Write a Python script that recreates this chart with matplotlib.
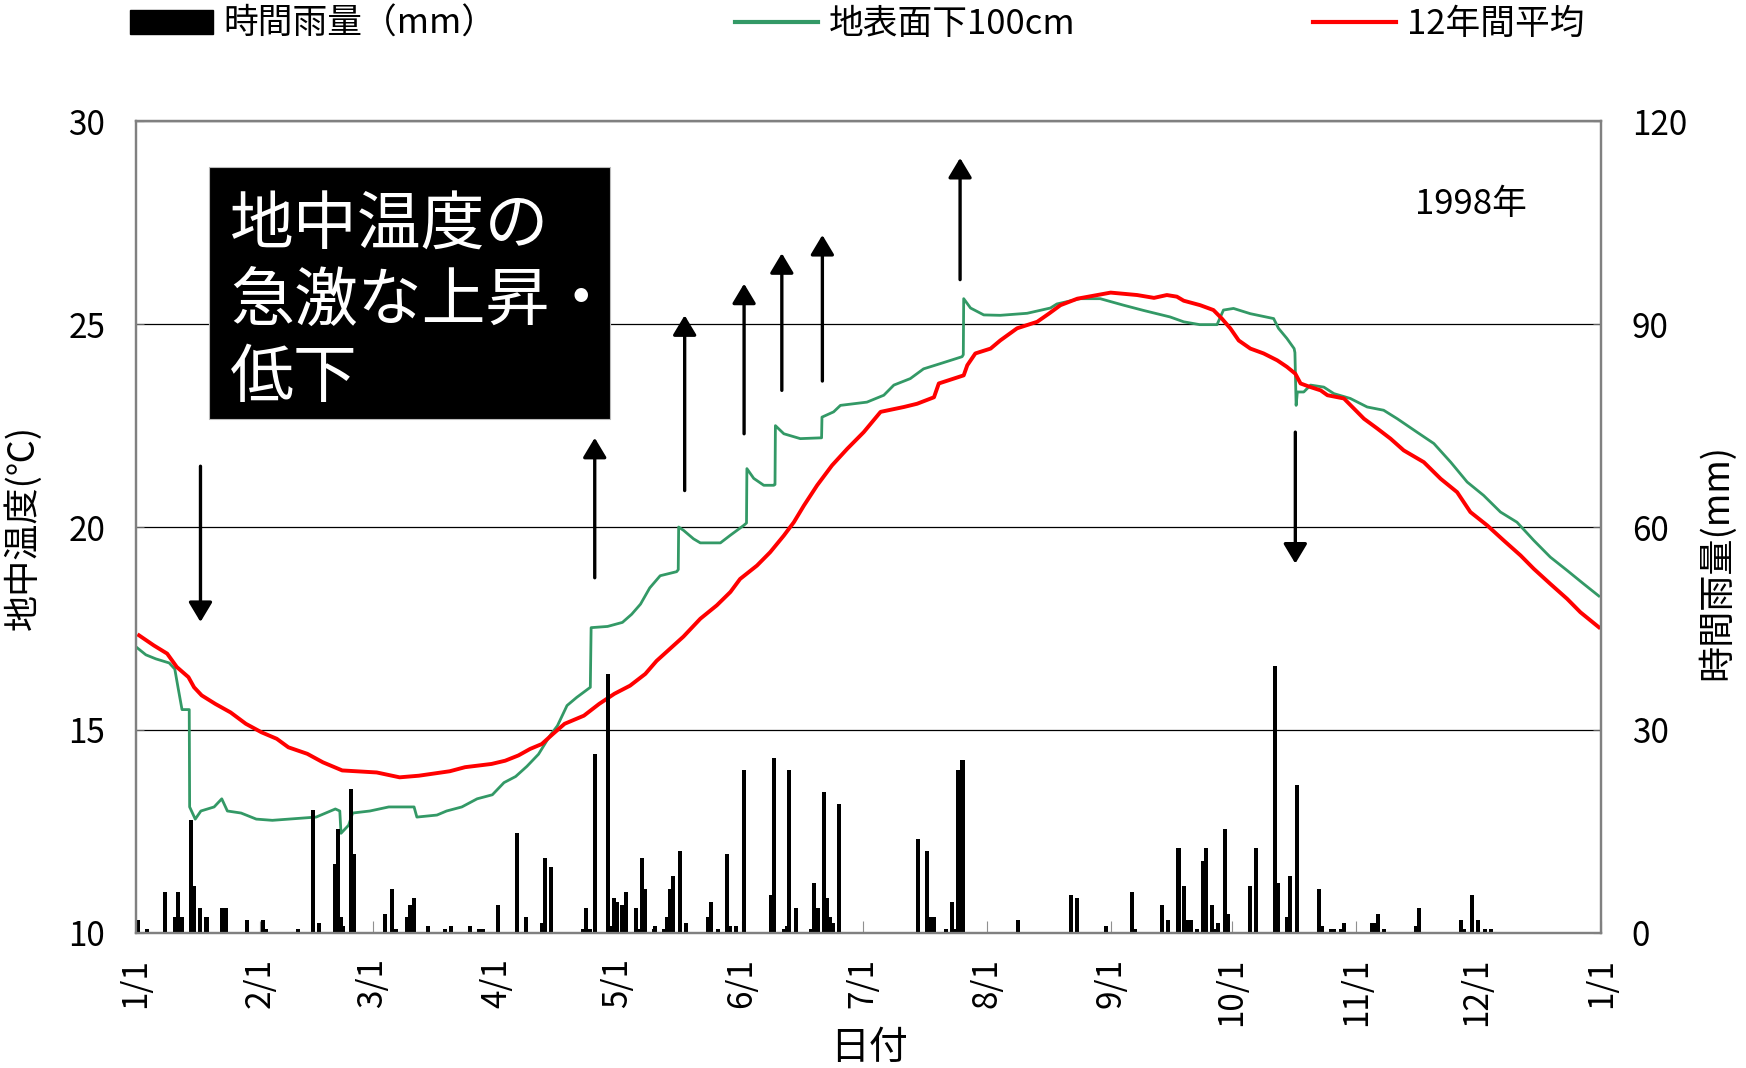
import matplotlib
matplotlib.use("Agg")
import matplotlib.pyplot as plt
import matplotlib.patches as mpatches
import matplotlib.lines as mlines
import numpy as np

plt.rcParams['font.family'] = ['Noto Sans CJK JP', 'DejaVu Sans']

# ---- data (day of year 1998, 0 = 1/1) ----
month_days = [0, 31, 59, 90, 120, 151, 181, 212, 243, 273, 304, 334, 365]
month_labels = ['1/1', '2/1', '3/1', '4/1', '5/1', '6/1', '7/1', '8/1',
                '9/1', '10/1', '11/1', '12/1', '1/1']

# soil temperature 100cm below surface (deg C)
green_day = [0, 2.5, 5, 8.3, 9.7, 10.5, 11.5, 13.3, 13.4, 14.8, 16.2, 19.5, 21.4, 22.8,
             26.2, 30, 34, 44.9, 49.7, 50.8, 51.1, 53, 54, 58.3, 63, 69.3, 70, 75,
             77.4, 81.2, 85, 88.8, 91.7, 94.6, 97.4, 100.3, 103.1, 105, 107.4, 109.8,
             113.2, 113.4, 117.5, 121.2, 123.5, 125.7, 128, 130.6, 134.7, 135.1, 135.2,
             136.4, 138.9, 140.6, 145.6, 148.1, 151.4, 152.1, 152.2, 153.9, 156.4,
             158.9, 159.2, 159.3, 161.4, 165.5, 170.8, 170.9, 173.8, 175.5, 182.1,
             186.3, 188.8, 192.9, 196.2, 200.4, 205.8, 206.1, 206.2, 207.9, 211.2,
             215.3, 222, 227.8, 229.4, 235.2, 240.2, 246, 251, 257.6, 261, 265, 269.3,
             270.9, 273.4, 277.6, 283.4, 284.6, 286.7, 288.5, 288.7, 289.0, 289.3,
             290.9, 292.6, 295.9, 298.4, 302.5, 306.7, 310.8, 314.2, 319.1, 323.3,
             327.5, 331.6, 335.7, 339.9, 344, 348.2, 352.3, 356.5, 360.6, 364.4]
green_temp = [17.05, 16.85, 16.75, 16.65, 16.5, 16.05, 15.5, 15.5, 13.1, 12.8, 13.0, 13.1,
              13.3, 13.0, 12.95, 12.8, 12.77, 12.85, 13.05, 13.0, 12.45, 12.65, 12.95,
              13.0, 13.1, 13.1, 12.85, 12.9, 13.0, 13.1, 13.3, 13.4, 13.7, 13.85, 14.1,
              14.4, 14.85, 15.1, 15.6, 15.8, 16.05, 17.52, 17.55, 17.65, 17.85, 18.1,
              18.5, 18.8, 18.9, 18.95, 20.0, 19.92, 19.71, 19.61, 19.61, 19.8, 20.04,
              20.1, 21.44, 21.2, 21.03, 21.03, 21.05, 22.5, 22.3, 22.18, 22.2, 22.71,
              22.84, 23.0, 23.08, 23.25, 23.5, 23.66, 23.9, 24.03, 24.2, 24.25, 25.63,
              25.4, 25.23, 25.22, 25.27, 25.4, 25.5, 25.63, 25.63, 25.47, 25.34, 25.18,
              25.06, 24.99, 24.99, 25.35, 25.39, 25.26, 25.14, 24.9, 24.65, 24.4, 24.3,
              23.0, 23.33, 23.33, 23.5, 23.45, 23.29, 23.17, 22.96, 22.88, 22.67, 22.34,
              22.06, 21.6, 21.11, 20.78, 20.37, 20.12, 19.67, 19.26, 18.93, 18.6, 18.3]

# 12-year mean (deg C)
red_day = [0.8, 4.5, 7.8, 10.2, 13.1, 14.5, 16.4, 19.8, 23.6, 27.4, 31.3, 35.1, 38, 42.7,
           46.6, 51.4, 60, 65.7, 70.5, 78.2, 82, 88.6, 92, 95.3, 98.2, 101.1, 103.9,
           106.8, 111.6, 115.4, 119.2, 123.1, 126.9, 129.7, 136.4, 140.6, 144.7, 148.1,
           150.5, 154.7, 158, 161.4, 163.9, 166.4, 169.7, 173.4, 177.2, 181.3, 185.5,
           191.3, 194.6, 198.8, 200, 206.2, 207.1, 209.1, 212.9, 215.3, 219.5, 224.5,
           227.4, 230.3, 234.5, 242.8, 249.4, 253.6, 256.8, 259.3, 261, 265.1, 268.4,
           270.5, 272.6, 274.7, 277.6, 280.9, 284.3, 286.7, 288.8, 290.1, 292.6, 295.1,
           296.8, 300.9, 303.4, 305.9, 309.2, 312.5, 315.8, 320.8, 325, 329.1, 332.4,
           336.6, 340.7, 344.9, 348.2, 352.3, 356.5, 359.8, 364.4]
red_temp = [17.33, 17.08, 16.88, 16.55, 16.3, 16.05, 15.85, 15.64, 15.43, 15.15, 14.94,
            14.78, 14.57, 14.41, 14.2, 14.0, 13.95, 13.83, 13.87, 13.98, 14.08, 14.16,
            14.24, 14.37, 14.53, 14.65, 14.9, 15.15, 15.35, 15.64, 15.89, 16.09, 16.38,
            16.7, 17.3, 17.74, 18.07, 18.4, 18.72, 19.05, 19.38, 19.79, 20.12, 20.53,
            21.03, 21.52, 21.93, 22.34, 22.84, 22.96, 23.04, 23.2, 23.54, 23.74, 23.99,
            24.28, 24.4, 24.6, 24.9, 25.06, 25.26, 25.47, 25.63, 25.78, 25.72, 25.65,
            25.72, 25.68, 25.58, 25.47, 25.35, 25.14, 24.9, 24.6, 24.4, 24.28, 24.11,
            23.95, 23.78, 23.54, 23.45, 23.37, 23.25, 23.17, 22.92, 22.67, 22.43, 22.18,
            21.89, 21.6, 21.19, 20.86, 20.37, 20.04, 19.67, 19.3, 18.97, 18.6, 18.23,
            17.9, 17.53]

# hourly rainfall (mm)
rain_day = [0.6, 2.7, 7.3, 9.7, 10.6, 11.5, 13.75, 14.4, 16.1, 17.6, 21.4, 22.5, 27.6,
            31.6, 32.3, 40.4, 44.1, 45.6, 49.6, 50.4, 51.0, 51.7, 53.6, 54.3, 62.1, 63.8,
            64.9, 67.6, 68.4, 69.2, 72.8, 76.9, 78.5, 83.3, 85.5, 86.4, 90.2, 95.0, 97.2,
            101.2, 101.9, 103.4, 111.4, 112.2, 113.0, 114.3, 117.6, 118.4, 119.0, 119.8,
            121.2, 122.0, 124.6, 125.3, 126.1, 126.9, 129.0, 129.4, 131.5, 132.2, 133.0,
            133.8, 135.5, 137.0, 142.5, 143.3, 145.0, 147.2, 148.0, 149.6, 151.6, 158.2,
            159.0, 161.4, 162.1, 162.7, 164.5, 168.2, 169.0, 169.8, 171.4, 172.1, 172.9,
            173.7, 175.2, 194.7, 197.1, 197.8, 198.7, 201.9, 203.3, 204.1, 204.8, 205.9,
            219.7, 233.0, 234.5, 241.7, 248.0, 248.8, 255.6, 257.1, 259.7, 261.1, 261.8,
            262.8, 264.2, 265.9, 266.6, 268.0, 268.8, 269.5, 271.3, 272.1, 277.5, 279.0,
            283.8, 284.6, 286.7, 287.5, 289.2, 294.7, 295.4, 297.8, 298.5, 300.2, 301.0,
            307.8, 308.8, 309.5, 311.0, 318.8, 319.6, 330.0, 330.7, 332.8, 334.4, 336.0,
            337.6]
rain_mm = [1.9, 0.5, 6.0, 2.3, 6.0, 2.3, 16.6, 6.9, 3.6, 2.3, 3.6, 3.6, 1.9,
           1.9, 0.6, 0.5, 18.1, 1.5, 10.1, 15.4, 2.3, 1.0, 21.2, 11.6, 2.8, 6.4,
           0.5, 2.3, 4.1, 5.1, 1.0, 0.5, 1.0, 1.0, 0.5, 0.5, 4.1, 14.8, 2.3,
           1.5, 11.1, 9.7, 0.5, 3.6, 0.5, 26.4, 38.3, 1.0, 5.1, 4.6,
           4.1, 6.0, 3.6, 0.5, 11.1, 6.4, 0.5, 1.0, 0.5, 2.3, 6.4,
           8.4, 12.1, 1.4, 2.3, 4.6, 0.5, 11.6, 1.0, 1.0, 24.0, 5.6,
           25.9, 0.5, 1.0, 24.0, 3.6, 0.5, 7.3, 3.6, 20.8, 5.1, 2.3,
           1.4, 19.0, 13.8, 12.1, 2.3, 2.3, 0.5, 4.6, 0.5, 24.0, 25.5,
           1.9, 5.6, 5.1, 1.0, 6.0, 0.5, 4.1, 1.9, 12.5, 6.9, 1.9,
           1.9, 0.5, 10.6, 12.5, 4.1, 0.5, 1.4, 15.3, 2.8, 6.9, 12.5,
           39.4, 7.3, 2.3, 8.4, 21.8, 6.4, 1.0, 0.5, 0.5, 0.5, 1.4,
           1.4, 1.4, 2.8, 0.5, 1.0, 3.6, 1.9, 0.5, 5.6, 1.9, 0.5,
           0.5]

# arrows: (day, tail temp, tip temp)
arrow_day = [16.1, 114.3, 136.7, 151.5, 160.9, 171.0, 205.3, 288.8]
arrow_tail = [21.5, 18.75, 20.9, 22.3, 23.37, 23.6, 26.1, 22.34]
arrow_tip = [17.66, 22.2, 25.22, 26.0, 26.75, 27.2, 29.1, 19.1]

legend_labels = ['時間雨量（mm）', '地表面下100cm', '12年間平均']
green = '#339966'
red = '#FF0000'

fig = plt.figure(figsize=(17.46, 10.68), dpi=100)
ax = fig.add_axes([0.0778, 0.1267, 0.8393, 0.7596])
ax2 = ax.twinx()

ax.plot(green_day, green_temp, color=green, lw=2.0, zorder=3)
ax.plot(red_day, red_temp, color=red, lw=2.8, zorder=3)
ax2.bar(rain_day, rain_mm, width=1.0, color='black', align='center')

ax.set_xlim(0, 365)
ax.set_ylim(10, 30)
ax2.set_ylim(0, 120)
ax.set_yticks([10, 15, 20, 25, 30])
ax2.set_yticks([0, 30, 60, 90, 120])
ax.set_xticks(month_days)
ax.set_xticklabels(month_labels, rotation=90)

ax.yaxis.grid(True, color='black', lw=0.9)
ax.set_axisbelow(True)

for a in (ax, ax2):
    for s in a.spines.values():
        s.set_color('#808080')
        s.set_linewidth(1.6)
ax.tick_params(axis='y', direction='in', length=6, color='#606060', labelsize=24, pad=22)
ax.tick_params(axis='x', direction='in', length=9, color='#909090', width=0.8,
               labelsize=24, pad=18)
ax2.tick_params(axis='y', direction='in', length=6, color='#606060', labelsize=24, pad=22)

ax.set_ylabel('地中温度(℃)', fontsize=26)
ax.yaxis.set_label_coords(-0.064, 0.5)
ax2.set_ylabel('時間雨量(mm)', fontsize=26)
ax2.yaxis.set_label_coords(1.066, 0.457)
ax.set_xlabel('日付', fontsize=28)
ax.xaxis.set_label_coords(0.5, -0.118)

# arrows
for d, t0, t1 in zip(arrow_day, arrow_tail, arrow_tip):
    ax.annotate('', xy=(d, t1), xytext=(d, t0),
                arrowprops=dict(arrowstyle='-|>,head_length=0.6,head_width=0.36',
                                mutation_scale=20, lw=2.4, color='black',
                                shrinkA=0, shrinkB=0), zorder=4)

# black annotation box
box = mpatches.Rectangle((0.0502, 0.6336), 0.2735, 0.3104, transform=ax.transAxes,
                         facecolor='black', edgecolor='#bbbbbb', lw=0.8, zorder=5)
ax.add_patch(box)
ax.text(0.0645, 0.912, '地中温度の\n急激な上昇・\n低下', transform=ax.transAxes,
        color='white', fontsize=46, va='top', ha='left', linespacing=1.19, zorder=6)

ax.text(0.911, 0.898, '1998年', transform=ax.transAxes, fontsize=25,
        ha='center', va='center')

# legend
handles = [mpatches.Patch(facecolor='black', edgecolor='black'),
           mlines.Line2D([], [], color=green, lw=3),
           mlines.Line2D([], [], color=red, lw=3)]
fig.legend(handles, legend_labels, loc='center left', bbox_to_anchor=(0.0745, 0.977),
           ncol=3, frameon=False, fontsize=25, handlelength=2.4, handleheight=0.7,
           handletextpad=0.3, columnspacing=6.85, borderpad=0, borderaxespad=0)

fig.savefig('out.png', dpi=100)
